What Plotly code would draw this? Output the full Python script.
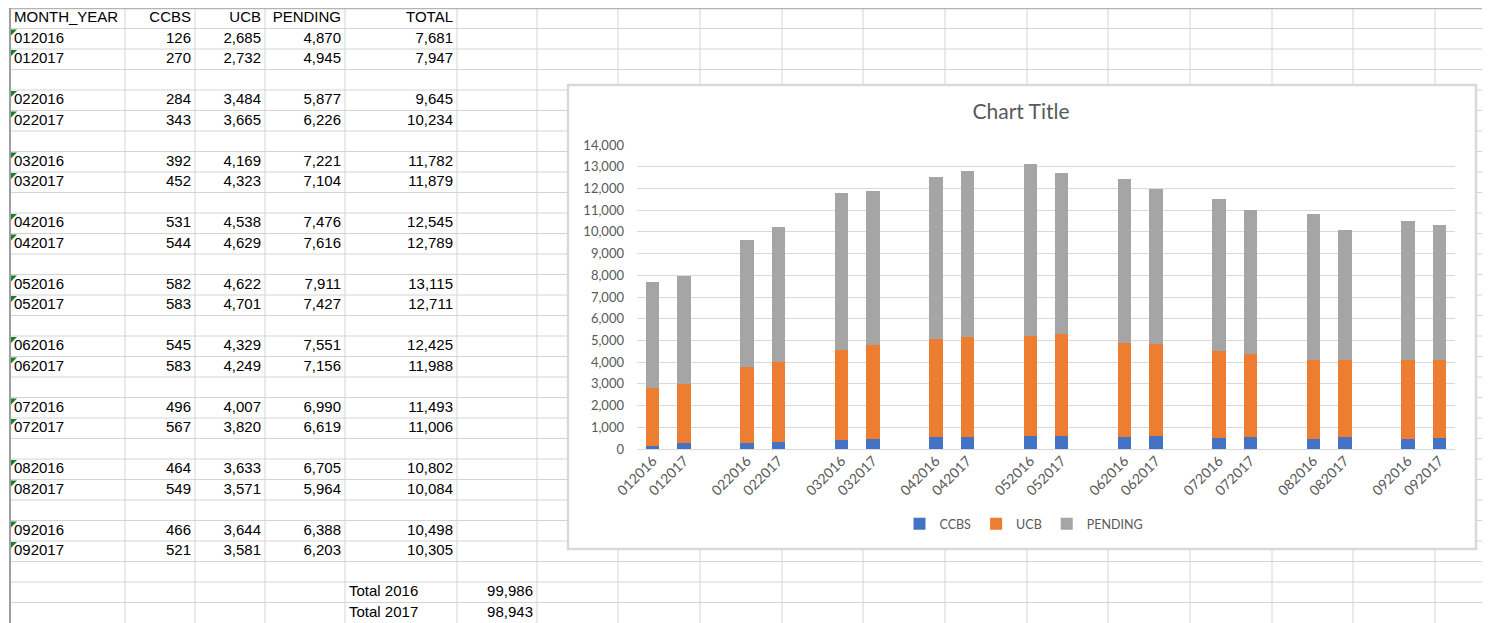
import plotly.graph_objects as go

# The page has an 8px body margin, so the figure starts at page (8, 8).
OFF = 8
W, H = 1490 - OFF, 623 - OFF

# ---------------- data ----------------
months = ["012016", "012017", "022016", "022017", "032016", "032017",
          "042016", "042017", "052016", "052017", "062016", "062017",
          "072016", "072017", "082016", "082017", "092016", "092017"]
ccbs = [126, 270, 284, 343, 392, 452, 531, 544, 582, 583, 545, 583,
        496, 567, 464, 549, 466, 521]
ucb = [2685, 2732, 3484, 3665, 4169, 4323, 4538, 4629, 4622, 4701, 4329, 4249,
       4007, 3820, 3633, 3571, 3644, 3581]
pending = [4870, 4945, 5877, 6226, 7221, 7104, 7476, 7616, 7911, 7427, 7551, 7156,
           6990, 6619, 6705, 5964, 6388, 6203]
header_labels = ["MONTH_YEAR", "CCBS", "UCB", "PENDING", "TOTAL"]
total_labels = ["Total 2016", "Total 2017"]
series_names = ["CCBS", "UCB", "PENDING"]
series_colors = ["#4472C4", "#ED7D31", "#A5A5A5"]
chart_title = "Chart Title"

totals = [c + u + p for c, u, p in zip(ccbs, ucb, pending)]
year_totals = [sum(totals[0::2]), sum(totals[1::2])]

# ---------------- geometry helpers (page pixels -> paper) ----------------
def px(x):
    return (x - OFF) / W

def py(y):
    return 1 - (y - OFF) / H

ROW_TOP = 8
ROW_H = 20.5
N_ROWS = 30
COL_EDGES = [10, 125, 195, 265, 345, 457, 537]          # columns A..F
EXTRA_COL_LINES = [618, 700, 782, 863, 945, 1027, 1108, 1190, 1272, 1353, 1435]
SHEET_RIGHT = 1485
PAD = 4

fmt = lambda v: f"{v:,}"

# ---------------- spreadsheet cell texts ----------------
cell_x, cell_row, cell_text, cell_pos = [], [], [], []

def put(row, col, text, align):
    if text == "":
        return
    if align == "left":
        cell_x.append(COL_EDGES[col] + PAD)
        cell_pos.append("middle right")
    else:
        cell_x.append(COL_EDGES[col + 1] - PAD)
        cell_pos.append("middle left")
    cell_row.append(row)
    cell_text.append(text)

for c, lab in enumerate(header_labels):
    put(1, c, lab, "left" if c == 0 else "right")

row = 2
data_rows = []
for i in range(0, len(months), 2):
    for j in (i, i + 1):
        data_rows.append(row)
        put(row, 0, months[j], "left")
        put(row, 1, fmt(ccbs[j]), "right")
        put(row, 2, fmt(ucb[j]), "right")
        put(row, 3, fmt(pending[j]), "right")
        put(row, 4, fmt(totals[j]), "right")
        row += 1
    row += 1  # blank separator row
for k in range(2):
    put(row + k, 4, total_labels[k], "left")
    put(row + k, 5, fmt(year_totals[k]), "right")

sheet_text = go.Scatter(
    x=cell_x, y=cell_row, text=cell_text, mode="text", textposition=cell_pos,
    textfont=dict(family="Liberation Sans, Arial", size=15, color="#000000"),
    xaxis="x2", yaxis="y2", showlegend=False, hoverinfo="skip", cliponaxis=False,
)

# ---------------- sheet grid shapes ----------------
shapes = []
GRID = "#D4D4D4"
for k in range(1, N_ROWS):
    y = ROW_TOP + ROW_H * k
    shapes.append(dict(type="line", xref="paper", yref="paper", layer="below",
                       x0=px(COL_EDGES[0]), x1=px(SHEET_RIGHT), y0=py(y), y1=py(y),
                       line=dict(color=GRID, width=1)))
for x in COL_EDGES[1:] + EXTRA_COL_LINES:
    shapes.append(dict(type="line", xref="paper", yref="paper", layer="below",
                       x0=px(x), x1=px(x), y0=py(ROW_TOP), y1=0,
                       line=dict(color=GRID, width=1)))
shapes.append(dict(type="line", xref="paper", yref="paper", layer="below",
                   x0=px(COL_EDGES[0]), x1=px(SHEET_RIGHT), y0=py(ROW_TOP), y1=py(ROW_TOP),
                   line=dict(color="#B4B4B4", width=2.5)))
shapes.append(dict(type="line", xref="paper", yref="paper", layer="below",
                   x0=px(COL_EDGES[0]), x1=px(COL_EDGES[0]), y0=py(ROW_TOP), y1=0,
                   line=dict(color="#9E9E9E", width=2)))
# green "number stored as text" markers
for r in data_rows:
    top = ROW_TOP + ROW_H * (r - 1) + 1
    path = f"M {px(11)} {py(top)} L {px(17)} {py(top)} L {px(11)} {py(top + 6)} Z"
    shapes.append(dict(type="path", xref="paper", yref="paper", layer="below",
                       path=path, fillcolor="#1E7B34", line=dict(width=0)))
# chart box
shapes.append(dict(type="rect", xref="paper", yref="paper", layer="below",
                   x0=px(568), x1=px(1476), y0=py(549), y1=py(85),
                   fillcolor="#FFFFFF", line=dict(color="#D9D9D9", width=2.5)))

# ---------------- chart ----------------
cats, c_vals, u_vals, p_vals = [], [], [], []
for i, m in enumerate(months):
    cats.append(m); c_vals.append(ccbs[i]); u_vals.append(ucb[i]); p_vals.append(pending[i])
    if i % 2 == 1 and i < len(months) - 1:
        cats.append(" " * (i // 2 + 1)); c_vals.append(None); u_vals.append(None); p_vals.append(None)

bars = []
for name, vals, color in zip(series_names, [c_vals, u_vals, p_vals], series_colors):
    bars.append(go.Bar(x=cats, y=vals, name=name,
                       marker=dict(color=color, line=dict(width=0)),
                       xaxis="x", yaxis="y"))

CHART_FONT = "Lato, Open Sans, sans-serif"
fig = go.Figure(data=bars + [sheet_text])
fig.update_layout(
    template="none",
    width=W, height=H, autosize=False,
    margin=dict(l=0, r=0, t=0, b=0),
    paper_bgcolor="#FFFFFF", plot_bgcolor="rgba(0,0,0,0)",
    barmode="stack", bargap=0.57,
    shapes=shapes,
    title=dict(text=chart_title, x=px(1021), y=py(112), xref="paper", yref="paper",
               xanchor="center", yanchor="middle",
               font=dict(family=CHART_FONT, size=21, color="#595959")),
    legend=dict(orientation="h", x=px(1024), y=py(524), xanchor="center", yanchor="middle",
                traceorder="normal", bgcolor="rgba(0,0,0,0)",
                font=dict(family=CHART_FONT, size=12.5, color="#595959")),
    xaxis=dict(domain=[px(637), px(1455)], type="category",
               categoryorder="array", categoryarray=cats,
               tickangle=-45, showgrid=False, showline=False, zeroline=False, ticks="",
               tickfont=dict(family=CHART_FONT, size=14, color="#595959"),
               fixedrange=True),
    yaxis=dict(domain=[py(449), py(145)], range=[0, 14000], dtick=1000,
               tickformat=",d", showgrid=True, gridcolor="#D9D9D9", gridwidth=1,
               zeroline=True, zerolinecolor="#D9D9D9", zerolinewidth=1,
               showline=False, ticks="", ticklabelstandoff=12,
               tickfont=dict(family=CHART_FONT, size=13, color="#595959"),
               fixedrange=True),
    xaxis2=dict(domain=[0, 1], range=[OFF, OFF + W], visible=False, fixedrange=True,
                anchor="y2"),
    yaxis2=dict(domain=[0, 1], range=[0.5 + H / ROW_H, 0.5], visible=False,
                fixedrange=True, anchor="x2"),
    showlegend=True,
)

fig.write_html("out.html")
